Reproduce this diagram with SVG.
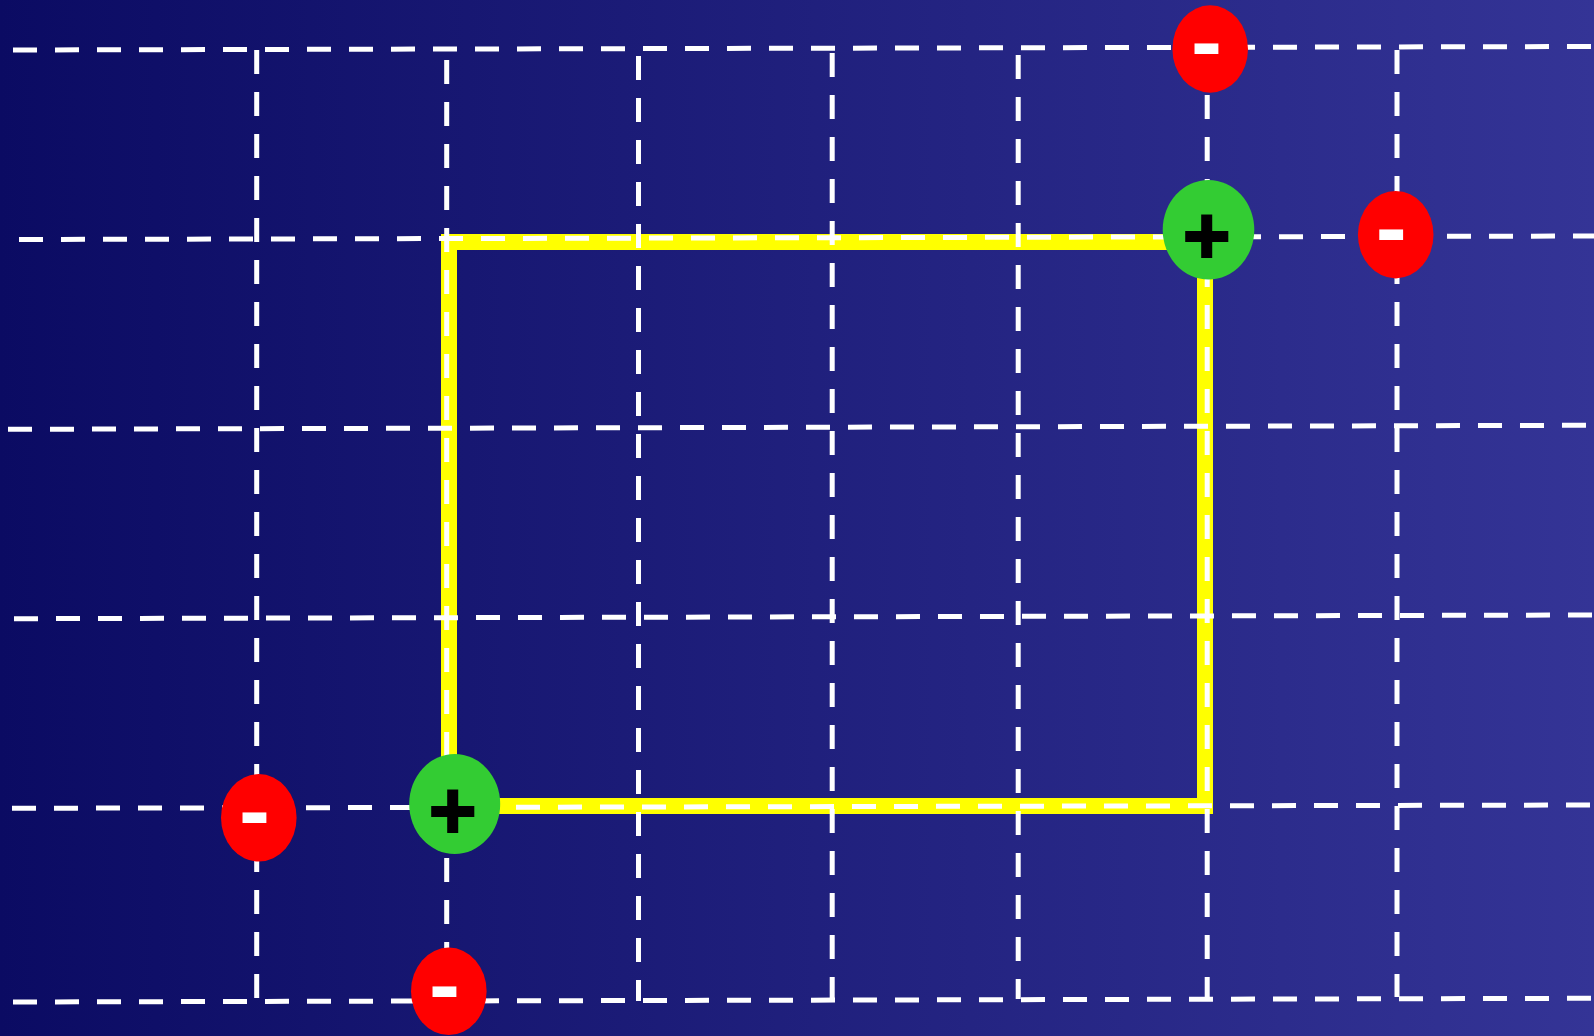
<svg xmlns="http://www.w3.org/2000/svg" width="1594" height="1036" viewBox="0 0 1594 1036">
  <defs>
    <linearGradient id="bg" x1="0" y1="0" x2="1" y2="0">
      <stop offset="0" stop-color="#0b0b63"/>
      <stop offset="1" stop-color="#343496"/>
    </linearGradient>
  </defs>
  <style>
    .grid line { stroke: #ffffff; stroke-width: 5; stroke-dasharray: 24 18; fill: none; }
    .loop { fill: none; stroke: #ffff00; stroke-width: 16; stroke-linejoin: miter; }
    .neg { fill: #ff0000; }
    .pos { fill: #33cc33; }
    .minus { font-family: "Liberation Sans", Arial, sans-serif; font-weight: bold; font-size: 70px; fill: #ffffff; stroke: #ffffff; stroke-width: 2; text-anchor: middle; }
    .plus { font-family: "Liberation Sans", Arial, sans-serif; font-weight: bold; font-size: 82px; fill: #000000; stroke: #000000; stroke-width: 2; text-anchor: middle; }
  </style>
  <rect x="0" y="0" width="1594" height="1036" fill="url(#bg)"/>
  <g id="loop">
    <rect class="loop" x="449" y="242" width="756" height="564"/>
  </g>
  <g id="connectors" class="grid">
    <line x1="13" y1="50" x2="1591" y2="46.5"/>
    <line x1="19" y1="239.5" x2="1594" y2="236"/>
    <line x1="8" y1="429.3" x2="1587" y2="425.3"/>
    <line x1="14" y1="618.7" x2="1594" y2="615"/>
    <line x1="12" y1="808.3" x2="1594" y2="805"/>
    <line x1="13" y1="1002" x2="1591" y2="998.3"/>
    <line x1="256.7" y1="50" x2="256.7" y2="1000"/>
    <line x1="446.7" y1="60" x2="446.7" y2="1001"/>
    <line x1="638.5" y1="56" x2="638.5" y2="1001"/>
    <line x1="832.2" y1="53" x2="832.2" y2="999"/>
    <line x1="1018.2" y1="55" x2="1018.2" y2="999"/>
    <line x1="1207.2" y1="53" x2="1207.2" y2="999"/>
    <line x1="1397" y1="50" x2="1397" y2="997"/>
  </g>
  <g id="neg-top">
    <ellipse class="neg" cx="1210.2" cy="49" rx="37.8" ry="43.7"/>
    <text class="minus" transform="translate(1206.5 67) scale(1.2 1)" x="0" y="0">-</text>
  </g>
  <g id="neg-right">
    <ellipse class="neg" cx="1395.7" cy="234.7" rx="37.8" ry="43.7"/>
    <text class="minus" transform="translate(1391.3 253.3) scale(1.2 1)" x="0" y="0">-</text>
  </g>
  <g id="neg-left">
    <ellipse class="neg" cx="258.8" cy="817.8" rx="37.8" ry="43.7"/>
    <text class="minus" transform="translate(254.5 836.3) scale(1.2 1)" x="0" y="0">-</text>
  </g>
  <g id="neg-bottom">
    <ellipse class="neg" cx="448.8" cy="991.3" rx="37.8" ry="43.7"/>
    <text class="minus" transform="translate(444.5 1010.2) scale(1.2 1)" x="0" y="0">-</text>
  </g>
  <g id="pos-top">
    <ellipse class="pos" cx="1208.5" cy="229.7" rx="45.8" ry="49.8"/>
    <text class="plus" x="1206.7" y="262.5">+</text>
  </g>
  <g id="pos-bottom">
    <ellipse class="pos" cx="454.7" cy="804" rx="45.5" ry="50"/>
    <text class="plus" x="452.7" y="837.5">+</text>
  </g>
</svg>
